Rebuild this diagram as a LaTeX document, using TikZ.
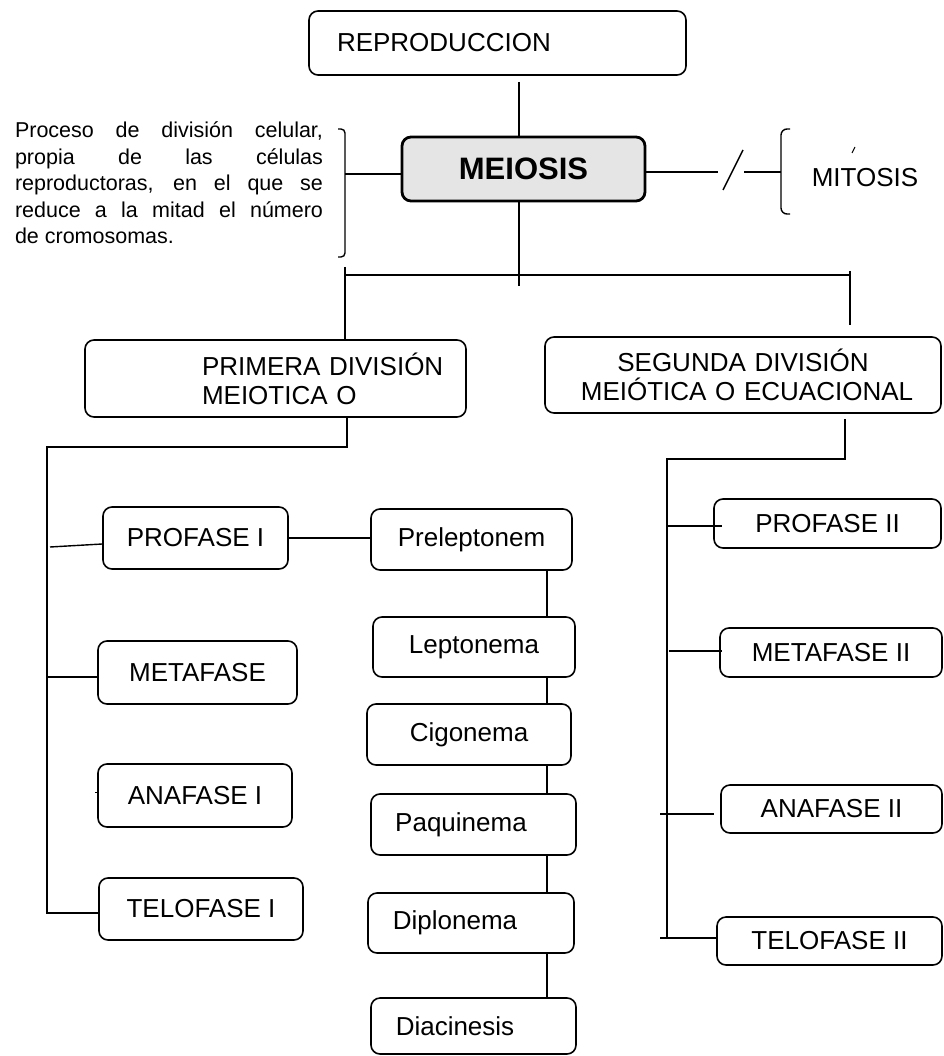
\documentclass[tikz,border=0pt]{standalone}
\usepackage{fontspec}
\setmainfont{Liberation Sans}
\newcommand\fsz{\fontsize{26}{29}\selectfont}
\begin{document}
\begin{tikzpicture}[x=1pt,y=-1pt,
  box/.style={draw, line width=1.6pt, rounded corners=9pt, inner sep=0pt, font=\fsz},
  con/.style={line width=1.4pt}]
\useasboundingbox (0,0) rectangle (943,1056);

% top
\node[box, minimum width=377pt, minimum height=64pt, text width=377pt, align=left] (rep) at (497.5,43) {\hspace*{28pt}REPRODUCCION};
\node[box, line width=2.8pt, fill=black!10, minimum width=243pt, minimum height=64pt, font=\fontsize{31}{34}\selectfont\bfseries] (mei) at (523.5,169) {MEIOSIS};
\node[inner sep=0pt, text width=308pt, align=justify, font=\fontsize{21.5}{26.5}\selectfont] (def) at (169,183)
 {Proceso de división celular,\linebreak propia de las células\linebreak reproductoras, en el que se\linebreak reduce a la mitad el número\linebreak de cromosomas.};
\node[inner sep=0pt, font=\fsz] (mit) at (865,178) {MITOSIS};

\coordinate (c1) at (519,82);
\draw[con] (c1) -- (c1 |- mei.north);

% left bracket
\draw[con, rounded corners=4pt] (338,129) -- (345,129) -- (345,257) -- (338,257);
\coordinate (bL) at (345,174);
\draw[con] (bL) -- (bL -| mei.west);

% right side
\coordinate (r1) at (718,172);
\coordinate (r2) at (744,172);
\coordinate (r3) at (781,172);
\draw[con] (r1 -| mei.east) -- (r1);
\draw[con] (743,150) -- (723,190);
\draw[con] (r2) -- (r3);
\draw[con, rounded corners=6pt] (790,129) -- (781,129) -- (781,214) -- (790,214);
\draw[line width=1pt] (852,153) -- (855,147);

% level 2 connectors
\coordinate (mx) at (519,286);
\coordinate (hl) at (345,275);
\coordinate (hr) at (850,275);
\draw[con] (mx |- mei.south) -- (mx);
\draw[con] (hl) -- (hr);

\node[box, minimum width=381pt, minimum height=77pt, text width=381pt, align=left, font=\fontsize{26}{29}\selectfont] (prim) at (275.5,378.5)
 {\hspace*{117pt}PRIMERA DIVISIÓN\\\hspace*{117pt}MEIOTICA O};
\node[box, minimum width=396pt, minimum height=76pt, text width=396pt, align=center, font=\fontsize{26}{29}\selectfont] (seg) at (743,375)
 {SEGUNDA DIVISIÓN\hspace*{40pt}\\\hspace*{8pt}MEIÓTICA O ECUACIONAL};

\draw[con] ([yshift=8pt]hl) -- (hl |- prim.north);
\draw[con] ([yshift=4pt]hr) -- ([yshift=11pt]hr |- seg.north);

% left column
\node[box, minimum width=185pt, minimum height=62pt] (pro1) at (195.5,538) {PROFASE I};
\node[box, minimum width=199pt, minimum height=63pt] (met1) at (197.5,672.5) {METAFASE};
\node[box, minimum width=194pt, minimum height=63pt] (ana1) at (195,795.5) {ANAFASE I};
\node[box, minimum width=204pt, minimum height=62pt] (tel1) at (201,909) {TELOFASE I};

\coordinate (pL) at (347,447);
\coordinate (lc) at (47,447);
\coordinate (lb) at (47,913);
\draw[con] (prim.south -| pL) -- (pL) -- (lc) -- (lb) -- (lb -| tel1.west);
\coordinate (a1) at (50,547);
\draw[con] (a1) -- ([yshift=-6pt]pro1.west);
\coordinate (j2) at (47,677);
\draw[con] (j2) -- (j2 -| met1.west);
\coordinate (j3) at (95,792);
\draw[line width=1pt] (j3) -- (j3 -| ana1.west);

% middle column
\node[box, minimum width=201pt, minimum height=61pt] (prel) at (471.5,539.5) {Preleptonem};
\node[box, minimum width=202pt, minimum height=60pt] (lept) at (474,647) {Leptonema};
\node[box, minimum width=204pt, minimum height=61pt] (cigo) at (469,734.5) {Cigonema};
\node[box, minimum width=205pt, minimum height=61pt] (paqu) at (473.5,824.5) {Paquinema\hspace*{25pt}};
\node[box, minimum width=206pt, minimum height=60pt] (dipl) at (471,923) {Diplonema\hspace*{32pt}};
\node[box, minimum width=205pt, minimum height=56pt] (diac) at (473.5,1026) {Diacinesis\hspace*{37pt}};

\draw[con] (pro1.east) -- (pro1.east -| prel.west);
\coordinate (mv) at (547,600);
\draw[con] (prel.south -| mv) -- (lept.north -| mv);
\draw[con] (lept.south -| mv) -- (cigo.north -| mv);
\draw[con] (cigo.south -| mv) -- (paqu.north -| mv);
\draw[con] (paqu.south -| mv) -- (dipl.north -| mv);
\draw[con] (dipl.south -| mv) -- (diac.north -| mv);

% right column
\node[box, minimum width=227pt, minimum height=49pt] (pro2) at (827.5,523.5) {PROFASE II};
\node[box, minimum width=222pt, minimum height=49pt] (met2) at (831,652.5) {METAFASE II};
\node[box, minimum width=221pt, minimum height=48pt] (ana2) at (831.5,809) {ANAFASE II};
\node[box, minimum width=225pt, minimum height=48pt] (tel2) at (829.5,941) {TELOFASE II};

\coordinate (s1) at (845,419);
\coordinate (s2) at (845,459);
\coordinate (s3) at (667,459);
\coordinate (s4) at (667,938);
\draw[con] (s1) -- (s2) -- (s3) -- (s4);
\coordinate (k1) at (667,526);
\draw[con] (k1) -- ([xshift=9pt]k1 -| pro2.west);
\coordinate (k2) at (669,651);
\draw[con] (k2) -- ([xshift=3pt]k2 -| met2.west);
\coordinate (k3) at (660,814);
\draw[con] (k3) -- ([xshift=-6pt]k3 -| ana2.west);
\coordinate (k4) at (660,938);
\draw[con] (k4) -- (k4 -| tel2.west);
\end{tikzpicture}
\end{document}
